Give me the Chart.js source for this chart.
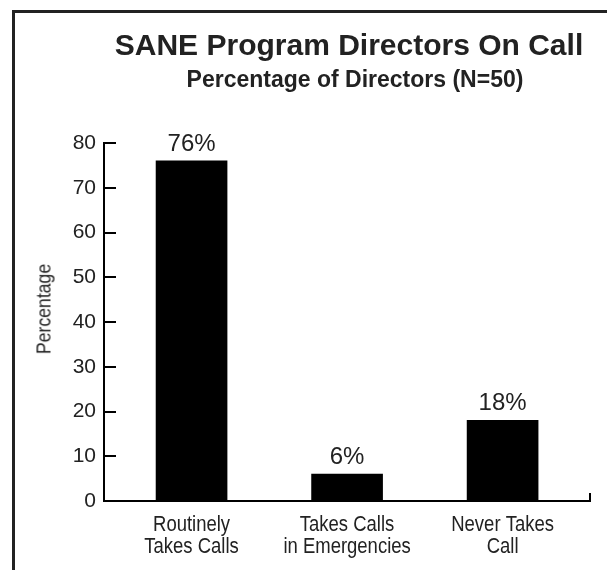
<!DOCTYPE html>
<html>
<head>
<meta charset="utf-8">
<script src="https://cdn.jsdelivr.net/npm/chart.js@4.4.1/dist/chart.umd.min.js"></script>
<style>
  html, body { margin: 0; padding: 0; background: #fff; overflow: hidden; width: 607px; height: 570px; }
  #frame { position: absolute; left: 12px; top: 10px; width: 700px; height: 700px; border: 3px solid #222; box-sizing: border-box; }
  #wrap { position: absolute; left: 0; top: 0; width: 607px; height: 570px; }
  .t { position: absolute; text-align: center; color: #222; font-family: 'Liberation Sans', Arial, sans-serif; font-weight: bold; white-space: nowrap; }
  #title { left: 0; width: 698px; top: 30px; font-size: 30px; line-height: 30px; }
  #subtitle { left: 0; width: 710px; top: 68px; font-size: 23px; line-height: 23px; }
  #ytitle { position: absolute; left: 43px; top: 309px; transform: translate(-50%, -50%) rotate(-90deg) scaleX(0.84); font-family: 'Liberation Sans', Arial, sans-serif; font-size: 21px; line-height: 21px; color: #222; white-space: nowrap; }
</style>
</head>
<body>
<div id="frame"></div>
<div id="wrap"><canvas id="c" width="607" height="570"></canvas></div>
<div class="t" id="title">SANE Program Directors On Call</div>
<div class="t" id="subtitle">Percentage of Directors (N=50)</div>
<div id="ytitle">Percentage</div>
<script>
const categories = [["Routinely", "Takes Calls"], ["Takes Calls", "in Emergencies"], ["Never Takes", "Call"]];
const values = [76, 6, 18];
const valueLabels = ["76%", "6%", "18%"];
const yTicks = [0, 10, 20, 30, 40, 50, 60, 70, 80];

const X_MIN = -0.563, X_MAX = 2.562;
const INK = '#222';

const valueLabelPlugin = {
  id: 'valueLabels',
  afterDatasetsDraw(chart) {
    const ctx = chart.ctx;
    const meta = chart.getDatasetMeta(0);
    ctx.save();
    ctx.fillStyle = INK;
    ctx.font = "24px 'Liberation Sans', Arial, sans-serif";
    ctx.textAlign = 'center';
    ctx.textBaseline = 'alphabetic';
    meta.data.forEach((bar, i) => {
      ctx.fillText(valueLabels[i], bar.x, bar.y - 10);
    });
    ctx.restore();
  }
};

// condensed category labels, positioned by the x scale
const categoryLabelPlugin = {
  id: 'categoryLabels',
  afterDraw(chart) {
    const ctx = chart.ctx;
    const xs = chart.scales.x;
    ctx.save();
    ctx.fillStyle = INK;
    ctx.font = "22px 'Liberation Sans', Arial, sans-serif";
    ctx.textAlign = 'center';
    ctx.textBaseline = 'alphabetic';
    categories.forEach((lines, i) => {
      const x = xs.getPixelForValue(i);
      lines.forEach((line, j) => {
        ctx.save();
        ctx.translate(x, xs.top + 30 + j * 22);
        ctx.scale(0.84, 1);
        ctx.fillText(line, 0, 0);
        ctx.restore();
      });
    });
    ctx.restore();
  }
};

new Chart(document.getElementById('c'), {
  type: 'bar',
  data: {
    datasets: [{
      data: values.map((v, i) => ({ x: i, y: v })),
      backgroundColor: '#000',
      borderWidth: 0,
      barThickness: 71
    }]
  },
  options: {
    responsive: false,
    animation: false,
    devicePixelRatio: 1,
    layout: { padding: { left: 0, right: 17, top: 143, bottom: 9 } },
    plugins: { legend: { display: false }, tooltip: { enabled: false }, title: { display: false } },
    scales: {
      x: {
        type: 'linear',
        offset: false,
        min: X_MIN,
        max: X_MAX,
        afterBuildTicks: s => { s.ticks = [0, 1, 2, X_MAX].map(v => ({ value: v })); },
        afterFit: s => { s.height = 60; },
        border: { display: true, color: '#000', width: 2 },
        grid: {
          offset: false,
          drawOnChartArea: false,
          drawTicks: true,
          tickLength: -8,
          lineWidth: 2,
          color: c => (c.tick && c.tick.value === X_MAX) ? '#000' : 'rgba(0,0,0,0)'
        },
        ticks: { display: false }
      },
      y: {
        min: 0,
        max: 80,
        afterBuildTicks: s => { s.ticks = yTicks.map(v => ({ value: v })); },
        afterFit: s => { s.width = 104; },
        border: { display: true, color: '#000', width: 2 },
        grid: {
          drawOnChartArea: false,
          drawTicks: true,
          tickLength: -12,
          lineWidth: 2,
          color: '#000'
        },
        ticks: {
          padding: 20,
          color: INK,
          font: { family: "'Liberation Sans', Arial, sans-serif", size: 21 }
        }
      }
    }
  },
  plugins: [valueLabelPlugin, categoryLabelPlugin]
});
</script>
</body>
</html>
